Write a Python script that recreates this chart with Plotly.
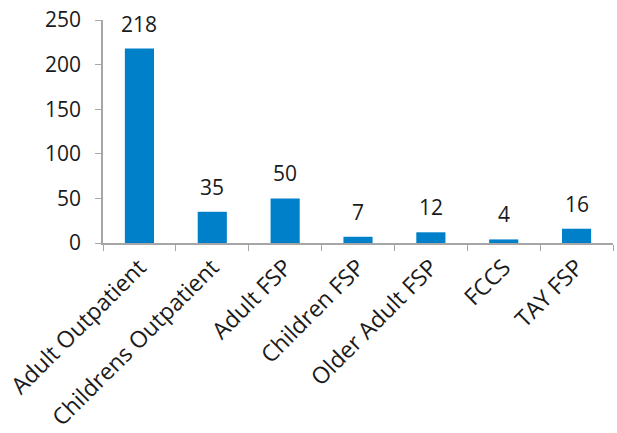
import plotly.graph_objects as go

categories = ["Adult Outpatient", "Childrens Outpatient", "Adult FSP", "Children FSP",
              "Older Adult FSP", "FCCS", "TAY FSP"]
values = [218, 35, 50, 7, 12, 4, 16]
y_ticks = [0, 50, 100, 150, 200, 250]

font_family = "Open Sans, Noto Sans, sans-serif"
axis_grey = "#A6A6A6"
text_color = "#1a1a1a"
font_size = 21

fig = go.Figure(
    go.Bar(
        x=categories,
        y=values,
        marker=dict(color="#0080C9", line=dict(width=0)),
        width=0.4,
    )
)

# value labels above each bar
for cat, val in zip(categories, values):
    fig.add_annotation(
        x=cat, y=val, text=str(val), showarrow=False,
        yanchor="bottom", yshift=9,
        font=dict(family=font_family, size=font_size, color=text_color),
    )

fig.update_layout(
    width=617, height=433,
    margin=dict(l=103, r=4, t=20, b=190),
    paper_bgcolor="white", plot_bgcolor="white",
    showlegend=False,
    font=dict(family=font_family, size=font_size, color=text_color),
)
fig.update_xaxes(
    tickangle=-45, automargin=False,
    showline=True, linecolor=axis_grey, linewidth=1.5,
    ticks="outside", ticklen=6, tickcolor=axis_grey, tickson="boundaries",
    showgrid=False,
    tickfont=dict(family=font_family, size=23, color=text_color),
)
fig.update_yaxes(
    range=[0, 250], tickvals=y_ticks, automargin=False,
    showline=True, linecolor=axis_grey, linewidth=1.5,
    ticks="outside", ticklen=6, tickcolor=axis_grey,
    ticklabelstandoff=10,
    showgrid=False, zeroline=False,
    tickfont=dict(family=font_family, size=font_size, color=text_color),
)

fig.write_html("out.html")
